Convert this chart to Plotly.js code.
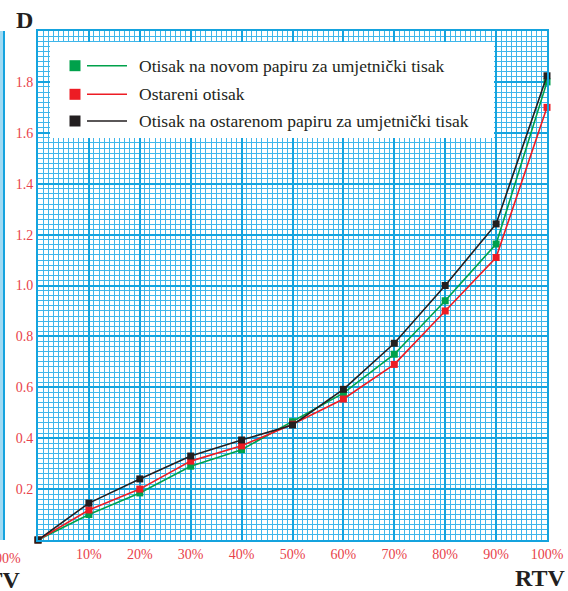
<!DOCTYPE html>
<html>
<head>
<meta charset="utf-8">
<script src="https://cdn.plot.ly/plotly-3.0.1.min.js"></script>
<style>html,body{margin:0;padding:0;background:#fff;}#chart{width:568px;height:591px;}</style>
</head>
<body>
<div id="chart"></div>
<script>
// ---- data ----
const rtv = [0, 10, 20, 30, 40, 50, 60, 70, 80, 90, 100];
const novi = [0, 0.10, 0.185, 0.29, 0.355, 0.465, 0.577, 0.73, 0.94, 1.163, 1.80];
const ostareni = [0, 0.118, 0.20, 0.31, 0.37, 0.455, 0.554, 0.69, 0.90, 1.11, 1.70];
const ostPapir = [0, 0.145, 0.24, 0.33, 0.393, 0.452, 0.592, 0.773, 1.0, 1.242, 1.824];
const seriesNames = ['Otisak na novom papiru za umjetnički tisak', 'Ostareni otisak', 'Otisak na ostarenom papiru za umjetnički tisak'];
const seriesColors = ['#00a14b', '#ed1c24', '#231f20'];
const xTickVals = [10, 20, 30, 40, 50, 60, 70, 80, 90, 100];
const xTickText = ['10%', '20%', '30%', '40%', '50%', '60%', '70%', '80%', '90%', '100%'];
const yTickVals = [0.2, 0.4, 0.6, 0.8, 1.0, 1.2, 1.4, 1.6, 1.8];
const yTickText = ['0.2', '0.4', '0.6', '0.8', '1.0', '1.2', '1.4', '1.6', '1.8'];
// fragment of neighbouring chart (cropped at left edge)
const fragX = [-9, -6.6];
const fragNovi = [1.47, 1.51];
const fragOst = [1.49, 1.525];
const fragOstP = [1.50, 1.54];

// ---- pixel helpers ----
const L = 38, R = 547, T = 31, B = 540;
const W = R - L, H = B - T;
const px = v => (v - L) / W;
const py = v => (B - v) / H;

const serif = '"Liberation Serif", serif';
const blueMajor = '#15a3de';
const blueMinor = '#3fb6ea';

const ys = [novi, ostareni, ostPapir];
const order = [0, 1, 2];
const traces = order.map(i => ({
  x: rtv, y: ys[i], name: seriesNames[i], type: 'scatter', mode: 'lines+markers',
  line: {color: seriesColors[i], width: 1.6},
  marker: {symbol: 'square', size: 7, color: seriesColors[i]},
  cliponaxis: false, showlegend: false
}));
const fr = [fragNovi, fragOst, fragOstP];
[0, 1, 2].forEach(i => traces.push({
  x: fragX, y: fr[i], type: 'scatter', mode: 'lines+markers',
  line: {color: seriesColors[i], width: 1.6},
  marker: {symbol: 'square', size: [0, 7], color: seriesColors[i]},
  cliponaxis: false, showlegend: false, hoverinfo: 'skip'
}));

const shapes = [];
const annotations = [];
// fragment grid strip on the left
shapes.push({type: 'rect', xref: 'paper', yref: 'paper', x0: px(-10), x1: px(4), y0: 0, y1: 1,
  fillcolor: '#9fdaf3', line: {width: 0}, layer: 'below'});
shapes.push({type: 'line', xref: 'paper', yref: 'paper', x0: px(4), x1: px(4), y0: 0, y1: 1,
  line: {color: blueMajor, width: 2}, layer: 'below'});

// legend box
shapes.push({type: 'rect', xref: 'paper', yref: 'paper', x0: px(50), x1: px(494), y0: py(138), y1: py(42),
  fillcolor: '#ffffff', line: {width: 0}, layer: 'above'});
const rowY = [65.7, 94.3, 121];
order.forEach((i, k) => {
  const yc = rowY[k];
  shapes.push({type: 'rect', xref: 'paper', yref: 'paper', x0: px(69.5), x1: px(80.5), y0: py(yc + 5.5), y1: py(yc - 5.5),
    fillcolor: seriesColors[i], line: {width: 0}, layer: 'above'});
  shapes.push({type: 'line', xref: 'paper', yref: 'paper', x0: px(87), x1: px(127), y0: py(yc), y1: py(yc),
    line: {color: seriesColors[i], width: 1.6}, layer: 'above'});
  annotations.push({text: seriesNames[i], xref: 'paper', yref: 'paper', x: px(137), y: py(yc),
    xanchor: 'left', yanchor: 'middle', showarrow: false,
    font: {family: serif, size: 17.5, color: '#231f20'}});
});

annotations.push({text: '<b>D</b>', xref: 'paper', yref: 'paper', x: px(24), y: py(20), xanchor: 'center', yanchor: 'middle',
  showarrow: false, font: {family: serif, size: 24, color: '#231f20'}});
annotations.push({text: '<b>RTV</b>', xref: 'paper', yref: 'paper', x: px(567), y: py(578), xanchor: 'right', yanchor: 'middle',
  showarrow: false, font: {family: serif, size: 24, color: '#231f20'}});
annotations.push({text: '100%', xref: 'paper', yref: 'paper', x: px(23), y: py(558), xanchor: 'right', yanchor: 'middle',
  showarrow: false, font: {family: serif, size: 14, color: '#e8424a'}});
annotations.push({text: '<b>RTV</b>', xref: 'paper', yref: 'paper', x: px(22), y: py(580), xanchor: 'right', yanchor: 'middle',
  showarrow: false, font: {family: serif, size: 24, color: '#231f20'}});

const layout = {
  width: 568, height: 591,
  margin: {l: L, r: 568 - R, t: T, b: 591 - B, pad: 0},
  paper_bgcolor: '#ffffff', plot_bgcolor: '#ffffff',
  showlegend: false,
  font: {family: serif},
  xaxis: {
    range: [0, 100], tickmode: 'array', tickvals: xTickVals, ticktext: xTickText,
    showgrid: true, gridcolor: blueMajor, gridwidth: 2,
    minor: {dtick: 1, tick0: 0, showgrid: true, gridcolor: blueMinor, gridwidth: 1},
    showline: true, mirror: true, linecolor: blueMajor, linewidth: 2,
    zeroline: false, ticks: '', fixedrange: true,
    tickfont: {family: serif, size: 14, color: '#e8424a'}
  },
  yaxis: {
    range: [0, 2], tickmode: 'array', tickvals: yTickVals, ticktext: yTickText,
    showgrid: true, gridcolor: blueMajor, gridwidth: 2,
    minor: {dtick: 0.02, tick0: 0, showgrid: true, gridcolor: blueMinor, gridwidth: 1},
    showline: true, mirror: true, linecolor: blueMajor, linewidth: 2,
    zeroline: false, ticks: '', fixedrange: true,
    tickfont: {family: serif, size: 14, color: '#e8424a'}
  },
  shapes: shapes,
  annotations: annotations
};

Plotly.newPlot('chart', traces, layout, {displayModeBar: false, staticPlot: true});
</script>
</body>
</html>
